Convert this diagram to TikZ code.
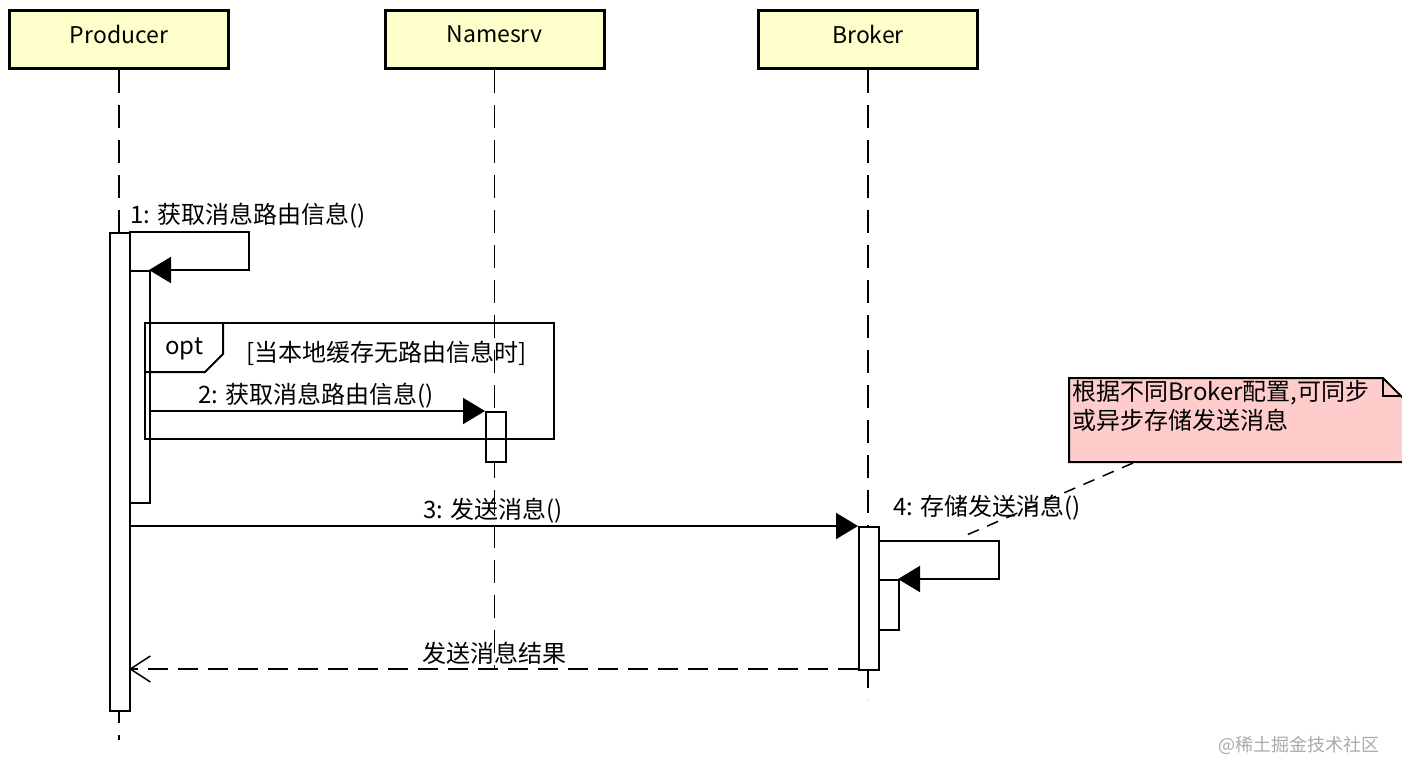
\documentclass[tikz,border=0pt]{standalone}
\usepackage{fontspec}
\setmainfont{Noto Sans CJK SC}
\usetikzlibrary{arrows.meta}
\definecolor{headfill}{HTML}{FFFFCC}
\definecolor{notefill}{HTML}{FFCCCC}
\definecolor{wmgray}{HTML}{AAAAAA}
\begin{document}
\begin{tikzpicture}[x=1pt,y=-1pt,
  font=\fontsize{24}{29}\selectfont,
  head/.style={draw, line width=3pt, fill=headfill, minimum width=219pt, minimum height=58pt, inner sep=0pt},
  headtext/.style={inner sep=0pt, font=\fontsize{23}{28}\selectfont},
  life/.style={line width=1.5pt, dash pattern=on 23pt off 12pt},
  act/.style={draw, line width=2pt, fill=white, minimum width=20pt, inner sep=0pt, anchor=north west},
  msg/.style={line width=2pt, -{Triangle[length=22pt,width=26pt]}},
  ret/.style={line width=1.5pt, dash pattern=on 20pt off 10pt, -{Straight Barb[length=20pt,width=26pt,line width=1.5pt]}},
  lbl/.style={inner sep=0pt, anchor=west},
  frame/.style={draw, line width=2pt}]
\clip (0,0) rectangle (1402,778);
\fill[white] (0,0) rectangle (1402,778);

% heads
\node[head] (prod) at (119,39.5) {};
\node[head] (ns) at (494.5,39.5) {};
\node[head] (brk) at (868,39.5) {};
\node[headtext] (prodT) at (119,34) {Producer};
\node[headtext] (nsT) at (494.5,34) {Namesrv};
\node[headtext] (brkT) at (868,34) {Broker};

% lifeline ends
\coordinate (prodEnd) at (119,740);
\coordinate (nsEnd) at (494.5,669);
\coordinate (brkEnd) at (868,700);
\draw[life] (prod.south) -- (prodEnd);
\draw[life] (ns.south) -- (nsEnd);
\draw[life] (brk.south) -- (brkEnd);

% activations
\node[act, minimum height=478pt] (pa) at (109,232) {};
\node[act, minimum height=232pt] (pa2) at (129,270) {};
\node[act, minimum height=50pt] (na) at (485,411) {};
\node[act, minimum height=143pt] (ba) at (858,526) {};
\node[act, minimum height=50pt] (ba2) at (878,579) {};

% opt frame
\draw[frame] (145,323) rectangle (554,439);
\draw[frame] (145,372) -- (205,372) -- (223,354) -- (223,323);
\node[lbl] (optlbl) at (165,349) {opt};
\node[lbl] (guard) at (246,353) {[当本地缓存无路由信息时]};

% message 1 (self)
\coordinate (m1s) at (129,232);
\coordinate (m1a) at (249,232);
\coordinate (m1b) at (249,270);
\coordinate (m1e) at (149,270);
\draw[msg] (m1s) -- (m1a) -- (m1b) -- (m1e);
\node[lbl] (l1) at (130,216) {1: 获取消息路由信息()};

% message 2
\coordinate (m2s) at (149,411);
\coordinate (m2e) at (485,411);
\draw[msg] (m2s) -- (m2e);
\node[lbl] (l2) at (198,396) {2: 获取消息路由信息()};

% message 3
\coordinate (m3s) at (129,526);
\coordinate (m3e) at (858,526);
\draw[msg] (m3s) -- (m3e);
\node[lbl] (l3) at (423,511) {3: 发送消息()};

% message 4 (self)
\coordinate (m4s) at (878,541);
\coordinate (m4a) at (999,541);
\coordinate (m4b) at (999,579);
\coordinate (m4e) at (898,579);
\draw[msg] (m4s) -- (m4a) -- (m4b) -- (m4e);
\node[lbl] (l4) at (893,508) {4: 存储发送消息()};

% return
\coordinate (rs) at (858,669);
\coordinate (re) at (129,669);
\draw[ret] (rs) -- (re);
\node[lbl] (l5) at (422,653) {发送消息结果};

% note
\draw[line width=2pt, fill=notefill] (1069,378) -- (1383,378) -- (1415,410) -- (1415,462) -- (1069,462) -- cycle;
\draw[line width=2pt] (1383,378) -- (1383,396) -- (1402,396);
\node[lbl, anchor=north west, align=left] (note) at (1072,380) {根据不同Broker配置,可同步\\或异步存储发送消息};
\coordinate (nc1) at (1133,463);
\coordinate (nc2) at (962,537);
\draw[line width=1.5pt, dash pattern=on 12pt off 9pt] (nc1) -- (nc2);

% watermark
\node[lbl, text=wmgray, font=\fontsize{18}{22}\selectfont] (wm) at (1218,745) {@稀土掘金技术社区};
\end{tikzpicture}
\end{document}
